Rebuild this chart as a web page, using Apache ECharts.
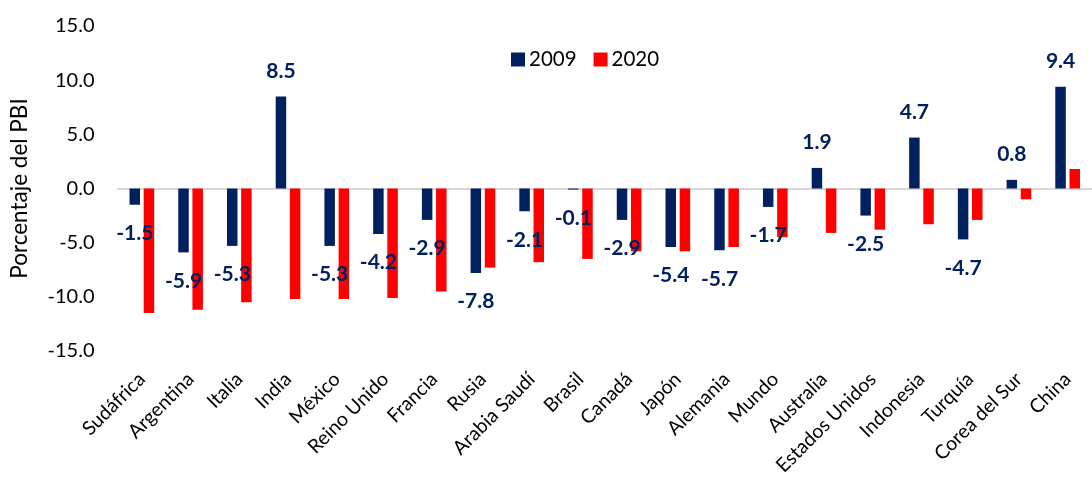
<!DOCTYPE html>
<html>
<head>
<meta charset="utf-8">
<script src="https://cdn.jsdelivr.net/npm/echarts@6/dist/echarts.min.js"></script>
<style>
  html, body { margin: 0; padding: 0; background: #fff; }
  #chart { width: 1092px; height: 485px; }
</style>
</head>
<body>
<div id="chart"></div>
<script>
// Balance fiscal (% del PBI), 2009 vs 2020
const categories = ['Sudáfrica', 'Argentina', 'Italia', 'India', 'México', 'Reino Unido', 'Francia', 'Rusia',
  'Arabia Saudí', 'Brasil', 'Canadá', 'Japón', 'Alemania', 'Mundo', 'Australia', 'Estados Unidos',
  'Indonesia', 'Turquía', 'Corea del Sur', 'China'];
const values2009 = [-1.5, -5.9, -5.3, 8.5, -5.3, -4.2, -2.9, -7.8, -2.1, -0.1, -2.9, -5.4, -5.7, -1.7, 1.9, -2.5, 4.7, -4.7, 0.8, 9.4];
const values2020 = [-11.5, -11.2, -10.5, -10.2, -10.2, -10.1, -9.5, -7.3, -6.8, -6.5, -5.8, -5.8, -5.4, -4.5, -4.1, -3.8, -3.3, -2.9, -1.0, 1.8];
const seriesNames = ['2009', '2020'];
const yTicks = { min: -15, max: 15, step: 5 };

const FONT = 'Lato';
const NAVY = '#002060';
const RED = '#FF0000';

const chart = echarts.init(document.getElementById('chart'), null, { renderer: 'canvas' });

chart.setOption({
  animation: false,
  textStyle: { fontFamily: FONT },
  legend: {
    data: seriesNames,
    left: 506,
    top: 44,
    itemWidth: 14,
    itemHeight: 14,
    itemGap: 17,
    icon: 'rect',
    textStyle: { fontFamily: FONT, fontSize: 20.5, color: '#000', padding: [0, 0, 0, -1] }
  },
  grid: { left: 117.5, right: -11.6, top: 26, bottom: 134, containLabel: false },
  xAxis: [
    {
      type: 'category',
      data: categories,
      position: 'bottom',
      axisLine: { show: false, onZero: false },
      axisTick: { show: false },
      axisLabel: {
        rotate: 45,
        interval: 0,
        margin: 25,
        fontFamily: FONT,
        fontSize: 19.5,
        color: '#000'
      }
    },
    {
      // zero baseline
      type: 'category',
      data: categories,
      position: 'bottom',
      axisLine: { show: true, onZero: true, lineStyle: { color: '#d9d9d9', width: 2 } },
      axisTick: { show: false },
      axisLabel: { show: false }
    }
  ],
  yAxis: {
    type: 'value',
    min: yTicks.min,
    max: yTicks.max,
    interval: yTicks.step,
    name: 'Porcentaje del PBI',
    nameLocation: 'middle',
    nameGap: 86,
    nameTextStyle: { fontFamily: FONT, fontSize: 22.5, color: '#000' },
    axisLine: { show: false },
    axisTick: { show: false },
    splitLine: { show: false },
    axisLabel: {
      margin: 23,
      fontFamily: FONT,
      fontSize: 20,
      color: '#000',
      formatter: v => v.toFixed(1)
    }
  },
  series: [
    {
      name: seriesNames[0],
      type: 'bar',
      xAxisIndex: 0,
      data: values2009.map(v => ({
        value: v,
        label: { position: v >= 0 ? 'top' : 'bottom', distance: v >= 0 ? 15 : 18 }
      })),
      barWidth: 10.5,
      barGap: '35%',
      itemStyle: { color: NAVY },
      label: {
        show: true,
        fontFamily: FONT,
        fontSize: 21,
        fontWeight: 'bold',
        color: NAVY,
        formatter: p => p.value.toFixed(1)
      },
      z: 3
    },
    {
      name: seriesNames[1],
      type: 'bar',
      xAxisIndex: 0,
      data: values2020,
      barWidth: 10.5,
      barGap: '35%',
      itemStyle: { color: RED },
      z: 2
    }
  ]
});
</script>
</body>
</html>
